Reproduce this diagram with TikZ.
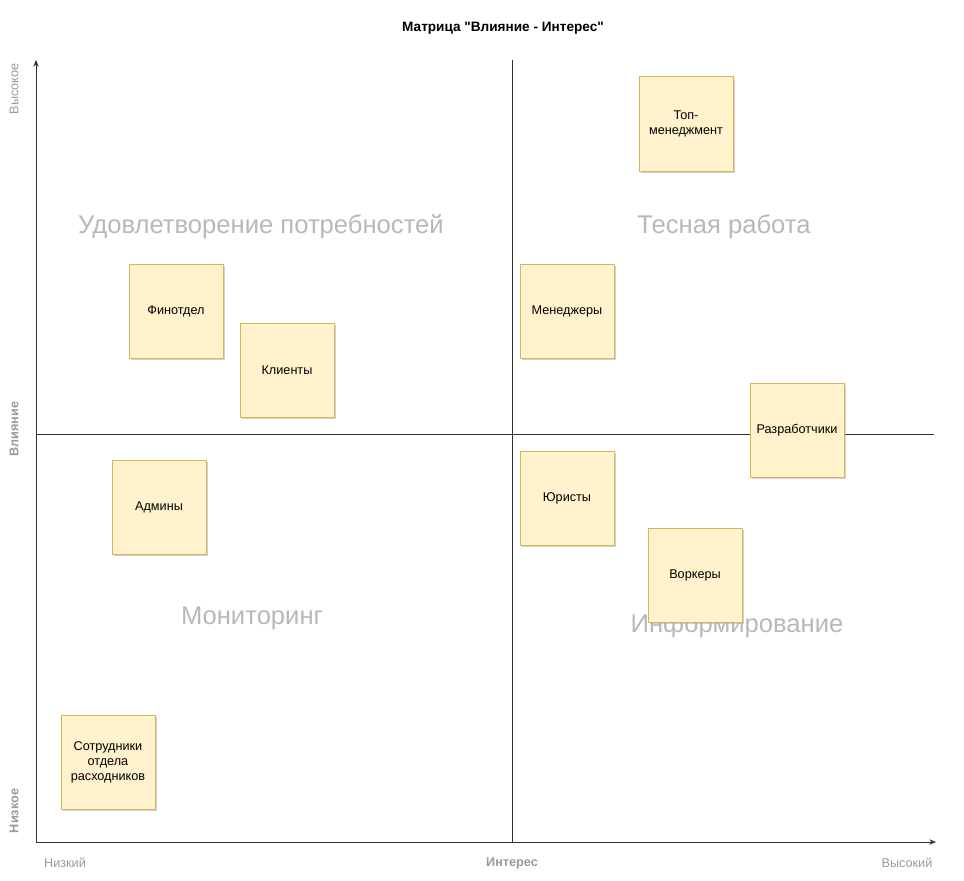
\documentclass[tikz,border=0pt]{standalone}
\usepackage{fontspec}
\setmainfont{Liberation Sans}
\newfontfamily\titlefont{Liberation Sans}
\usetikzlibrary{arrows.meta,shadows}

\definecolor{notefill}{HTML}{FFF2CC}
\definecolor{notedraw}{HTML}{D6B656}
\definecolor{quadgray}{HTML}{B8B8B8}
\definecolor{axisgray}{HTML}{999999}

\begin{document}
\begin{tikzpicture}[x=0.75pt,y=-0.75pt,
	note/.style={draw=notedraw,fill=notefill,line width=0.75pt,minimum width=70.5pt,minimum height=70.5pt,
		inner sep=0pt,text width=68pt,align=center,font=\fontsize{9.5}{11.25}\selectfont,
		drop shadow={shadow xshift=1.6pt,shadow yshift=-1.6pt,fill=black!35,opacity=0.5}},
	quad/.style={text=quadgray,font=\fontsize{19.2}{23}\selectfont},
	axlabel/.style={text=axisgray,font=\fontsize{9.5}{11}\selectfont},
	axline/.style={draw=black!80,line width=0.75pt}]
	\useasboundingbox (0,0) rectangle (964,881);

	% axes
	\coordinate (orig) at (36,842);
	\coordinate (ytop) at (36,60);
	\coordinate (xend) at (936,842);
	\coordinate (midtop) at (512,60);
	\coordinate (midbot) at (512,842);
	\coordinate (midl) at (36,434);
	\coordinate (midr) at (934,434);

	\draw[axline,-{Stealth[length=5pt,width=4pt]}] (orig) -- (ytop);
	\draw[axline,-{Stealth[length=5pt,width=4pt]}] (orig) -- (xend);
	\draw[axline] (midtop) -- (midbot);
	\draw[axline] (midl) -- (midr);

	\node[font=\titlefont\bfseries\fontsize{10.2}{12}\selectfont] (title) at (503,28) {Матрица "Влияние - Интерес"};

	\node[axlabel,rotate=90] (yhigh) at (14,89) {Высокое};
	\node[axlabel,rotate=90,font=\bfseries\fontsize{9.5}{11}\selectfont] (yname) at (14,429) {Влияние};
	\node[axlabel,rotate=90,font=\bfseries\fontsize{9.5}{11}\selectfont] (ylow) at (14,811) {Низкое};
	\node[axlabel] (xlow) at (65,863) {Низкий};
	\node[axlabel,font=\bfseries\fontsize{9.5}{11}\selectfont] (xname) at (512,863) {Интерес};
	\node[axlabel] (xhigh) at (907,863) {Высокий};

	% quadrants
	\node[quad] (q1) at (261,227) {Удовлетворение потребностей};
	\node[quad] (q2) at (724,227) {Тесная работа};
	\node[quad] (q3) at (252,618) {Мониторинг};
	\node[quad] (q4) at (737,626) {Информирование};

	% stakeholders
	\node[note] (top) at (686,124) {Топ-\\менеджмент};
	\node[note] (fin) at (176,311) {Финотдел};
	\node[note] (cli) at (287,370) {Клиенты};
	\node[note] (man) at (567,311) {Менеджеры};
	\node[note] (dev) at (797,430) {Разработчики};
	\node[note] (adm) at (159,507) {Админы};
	\node[note] (law) at (567,498) {Юристы};
	\node[note] (wrk) at (695,575) {Воркеры};
	\node[note] (sup) at (108,762) {Сотрудники\\отдела\\расходников};

\end{tikzpicture}
\end{document}
